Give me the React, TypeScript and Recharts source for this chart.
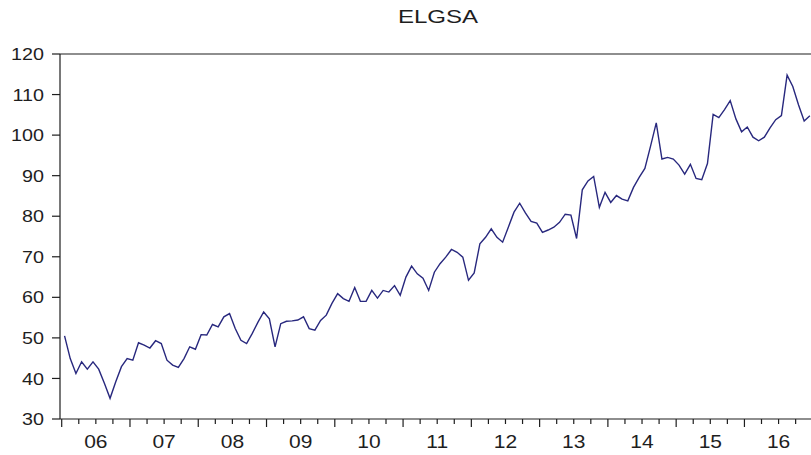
import { LineChart, Line, XAxis, YAxis, ReferenceLine } from 'recharts'

// monthly observations, 2006M01 .. 2016M12
const ELGSA_2006 = [50.5, 44.9, 41.2, 44.1, 42.3, 44.1, 42.3, 38.8, 35.1, 39.2, 42.9, 44.9]
const ELGSA_2007 = [44.5, 48.8, 48.2, 47.5, 49.3, 48.6, 44.5, 43.3, 42.7, 44.9, 47.8, 47.2]
const ELGSA_2008 = [50.8, 50.7, 53.3, 52.7, 55.2, 56.0, 52.3, 49.4, 48.6, 51.1, 53.9, 56.4]
const ELGSA_2009 = [54.7, 47.8, 53.5, 54.1, 54.2, 54.4, 55.2, 52.3, 51.9, 54.3, 55.6, 58.5]
const ELGSA_2010 = [60.9, 59.7, 59.0, 62.4, 59.0, 59.0, 61.7, 59.8, 61.7, 61.3, 62.9, 60.5]
const ELGSA_2011 = [65.0, 67.7, 65.8, 64.7, 61.7, 66.2, 68.3, 69.9, 71.8, 71.1, 69.9, 64.2]
const ELGSA_2012 = [66.0, 73.2, 74.8, 76.9, 74.8, 73.6, 77.3, 81.0, 83.2, 80.8, 78.7, 78.3]
const ELGSA_2013 = [76.0, 76.6, 77.3, 78.5, 80.5, 80.3, 74.5, 86.5, 88.7, 89.8, 82.2, 85.9]
const ELGSA_2014 = [83.4, 85.1, 84.2, 83.8, 87.1, 89.6, 91.8, 97.3, 103.0, 94.1, 94.5, 94.1]
const ELGSA_2015 = [92.6, 90.4, 92.8, 89.3, 89.0, 93.0, 105.1, 104.3, 106.3, 108.5, 104.0, 100.8]
const ELGSA_2016 = [102.0, 99.5, 98.6, 99.5, 101.8, 103.8, 104.8, 114.8, 112.0, 107.5, 103.5, 104.8]

const YEAR_LABELS = ['06', '07', '08', '09', '10', '11', '12', '13', '14', '15', '16']
const Y_TICKS = [30, 40, 50, 60, 70, 80, 90, 100, 110, 120]

const ELGSA = [
  ...ELGSA_2006, ...ELGSA_2007, ...ELGSA_2008, ...ELGSA_2009, ...ELGSA_2010, ...ELGSA_2011,
  ...ELGSA_2012, ...ELGSA_2013, ...ELGSA_2014, ...ELGSA_2015, ...ELGSA_2016,
]
const data = ELGSA.map((v, i) => ({ t: i, v }))

// quarter boundaries; every 4th one starts a year
const X_TICKS = Array.from({ length: 44 }, (_, k) => k * 3 - 0.5)

const INK = '#1e1e1e'
const FONT = '"Liberation Sans", Arial, sans-serif'

const XTick = ({ x, y, payload }: any) => {
  const k = Math.round((payload.value + 0.5) / 3)
  const major = k % 4 === 0
  const label = k % 4 === 2 ? YEAR_LABELS[(k - 2) / 4] : null
  return (
    <g>
      <line x1={x} x2={x} y1={y} y2={y + (major ? 8 : 5)} stroke={INK} strokeWidth={1.2} />
      {label && (
        <text
          transform={`translate(${x},${y + 28.5}) scale(1.2,1)`}
          textAnchor="middle"
          fontSize={17.5}
          fontFamily={FONT}
          fill={INK}
        >
          {label}
        </text>
      )}
    </g>
  )
}

const YTick = ({ x, y, payload }: any) => (
  <text
    transform={`translate(${x},${y}) scale(1.16,1)`}
    textAnchor="end"
    dy="0.36em"
    fontSize={17}
    fontFamily={FONT}
    fill={INK}
  >
    {payload.value}
  </text>
)

export default function App() {
  return (
    <div style={{ position: 'absolute', left: 0, top: 0, width: 811, height: 455, background: '#fff' }}>
      <div
        style={{
          position: 'absolute', left: 338, top: 6.7, width: 200, textAlign: 'center',
          fontFamily: FONT, fontSize: 18.5, lineHeight: '20px', color: INK,
          transform: 'scaleX(1.3)',
        }}
      >
        ELGSA
      </div>
      <LineChart width={811} height={455} data={data} margin={{ top: 54, right: 0, bottom: 0, left: 0 }}>
        <XAxis
          dataKey="t"
          type="number"
          domain={[-0.8, 131.2]}
          allowDataOverflow
          ticks={X_TICKS}
          interval={0}
          tickLine={false}
          tickSize={0}
          tickMargin={0}
          tick={<XTick />}
          height={36}
          axisLine={{ stroke: INK, strokeWidth: 1.2 }}
        />
        <YAxis
          type="number"
          domain={[30, 120]}
          ticks={Y_TICKS}
          interval={0}
          width={60}
          tickSize={8}
          tickMargin={8}
          tickLine={{ stroke: INK, strokeWidth: 1.2 }}
          axisLine={{ stroke: INK, strokeWidth: 1.2 }}
          tick={<YTick />}
        />
        <ReferenceLine y={120} stroke={INK} strokeWidth={1.2} />
        <Line
          type="linear"
          dataKey="v"
          stroke="#28287e"
          strokeWidth={1.4}
          dot={false}
          activeDot={false}
          isAnimationActive={false}
        />
      </LineChart>
    </div>
  )
}
